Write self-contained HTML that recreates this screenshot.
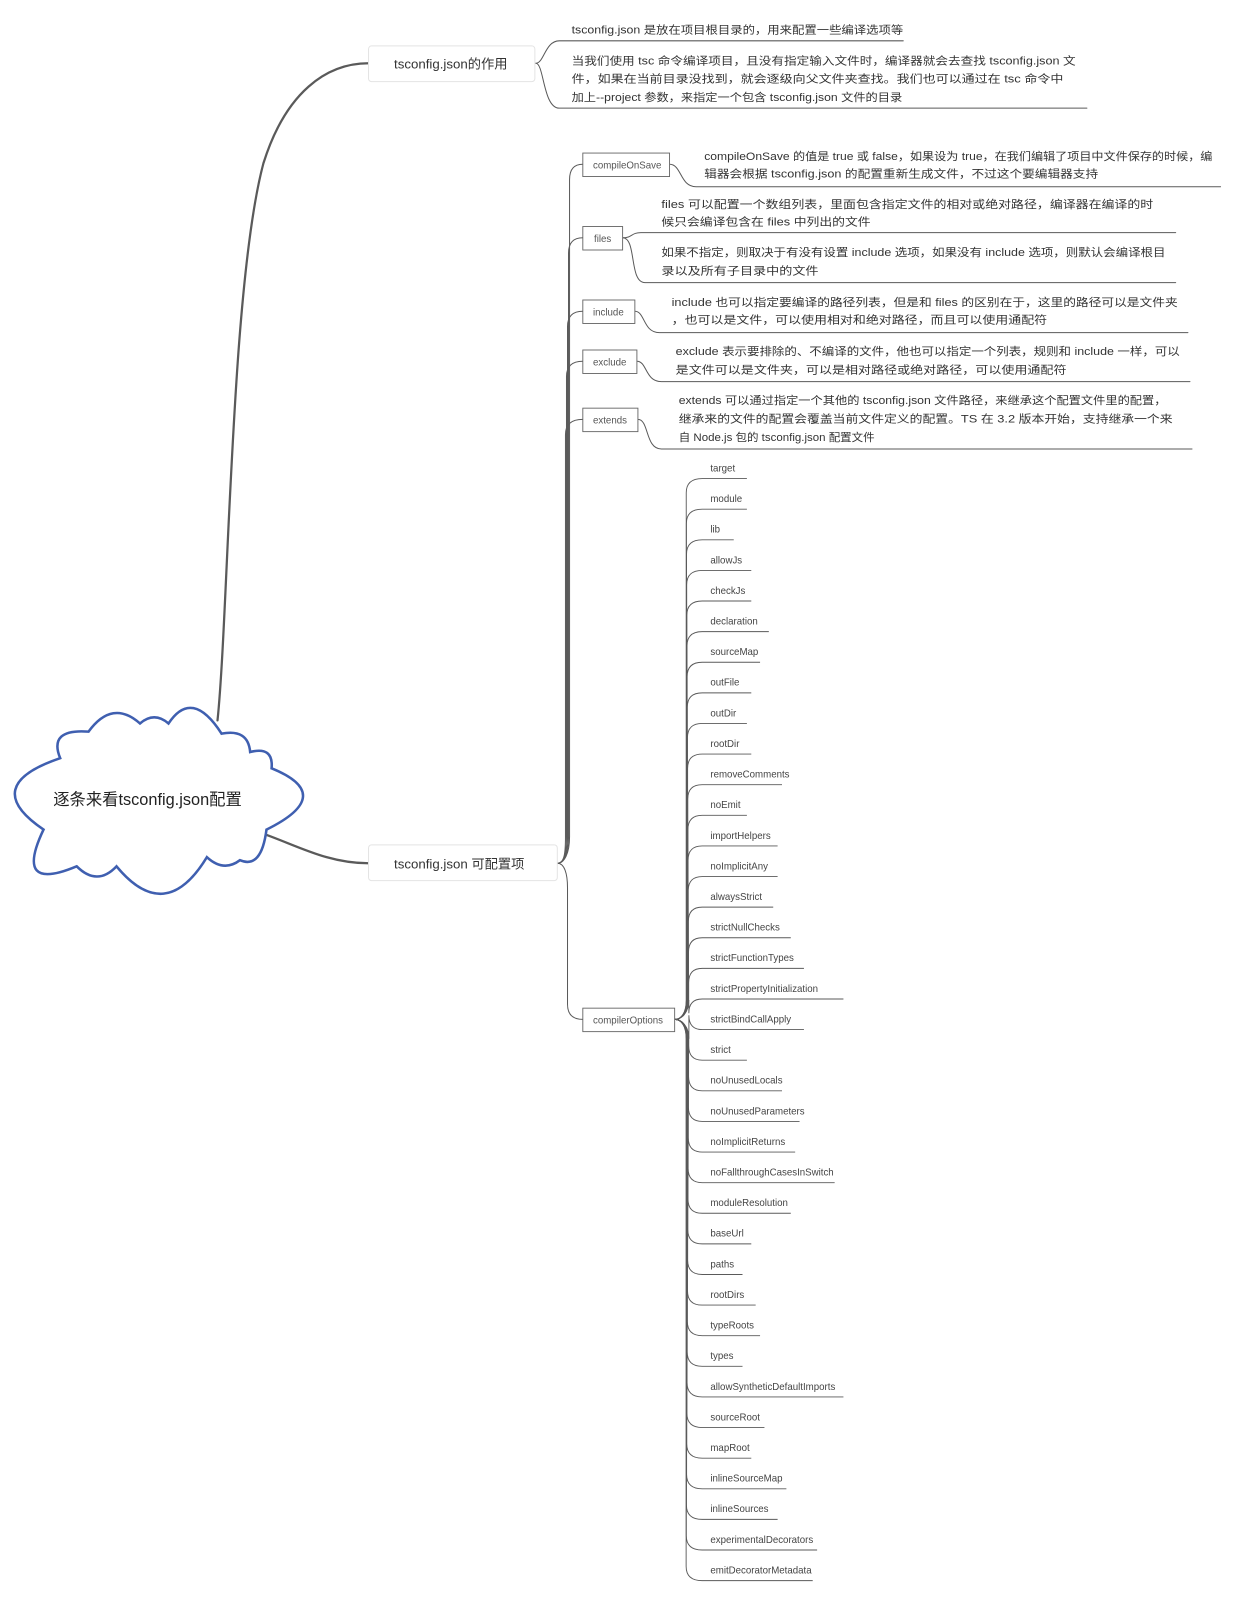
<!DOCTYPE html>
<html><head><meta charset="utf-8"><style>
html,body{margin:0;padding:0;background:#fff;}
svg{display:block}
text{font-family:"Liberation Sans","Noto Sans CJK SC",sans-serif;fill:#333;}
.d{font-size:10.5px;}
.l{font-size:9.5px;fill:#444;}
.b{font-size:9.5px;fill:#555;}
</style></head><body>
<svg width="1234" height="1600" viewBox="0 0 1209 1568" xmlns="http://www.w3.org/2000/svg">
<g fill="none" stroke="#5a5a5a" stroke-linecap="round">
<path d="M213,706 C224,600 226,280 258,160 C280,90 320,62 361,62" stroke-width="2.2"/>
<path d="M255,816 C290,828 320,846 361,846" stroke-width="2.2"/>
<path d="M525,62 C533,62 534,40 548,40 L885,40" stroke-width="1"/>
<path d="M525,62 C533,62 532,106 548,106 L1065,106" stroke-width="1"/>
<g stroke-width="1">
<path d="M546,846 C553,846 558,836 558,820 L558,176 Q558,161 571,161"/>
<path d="M546,846 C553,846 557,836 557,820 L557,248 Q557,233 571,233"/>
<path d="M546,846 C553,846 556,836 556,820 L556,320 Q556,305 571,305"/>
<path d="M546,846 C553,846 555,836 555,820 L555,369 Q555,354 571,354"/>
<path d="M546,846 C553,846 554,836 554,820 L554,426 Q554,411 571,411"/>
<path d="M546,846 C553,846 556,856 556,870 L556,984 Q556,999 571,999"/>
<path d="M656,161 C668,161 666,183 682,183 L1196,183"/>
<path d="M610,233 C620,233 618,228 628,228 L1152,228"/>
<path d="M610,233 C624,233 616,277 632,277 L1152,277"/>
<path d="M622,305 C632,305 630,326 646,326 L1164,326"/>
<path d="M624,354 C634,354 632,374 648,374 L1166,374"/>
<path d="M625,411 C636,411 632,440 648,440 L1168,440"/>
</g>
</g>
<path d="M58.8,743 Q47,714 86.6,717 Q110,685 137,709 Q151,697 165,709 Q188,674 217,719 Q243,714 245,737 Q268,731 266,753 Q330,779 261,813 Q256,852 235,843 Q219,855 202.6,840 Q162,907 114,849 Q95,869 75,849 Q13,875 42.5,813 Q-21,770 58.8,743 Z" fill="#fff" stroke="#3f5fb0" stroke-width="2.5"/>
<text x="52" y="789" style="font-size:16px;fill:#222">逐条来看tsconfig.json配置</text>
<rect x="361" y="45" width="163" height="35" rx="3" fill="#fff" stroke="#e4e4e4"/>
<text x="386" y="67" style="font-size:13px">tsconfig.json的作用</text>
<rect x="361" y="828" width="185" height="35" rx="3" fill="#fff" stroke="#e4e4e4"/>
<text x="386" y="851" style="font-size:13px">tsconfig.json 可配置项</text>
<g class="d">
<text class="d" x="560" y="33" textLength="325" lengthAdjust="spacingAndGlyphs">tsconfig.json 是放在项目根目录的，用来配置一些编译选项等</text>
<text class="d" x="560" y="63" textLength="494" lengthAdjust="spacingAndGlyphs">当我们使用 tsc 命令编译项目，且没有指定输入文件时，编译器就会去查找 tsconfig.json 文</text>
<text class="d" x="560" y="81" textLength="482" lengthAdjust="spacingAndGlyphs">件，如果在当前目录没找到，就会逐级向父文件夹查找。我们也可以通过在 tsc 命令中</text>
<text class="d" x="560" y="99" textLength="324" lengthAdjust="spacingAndGlyphs">加上--project 参数，来指定一个包含 tsconfig.json 文件的目录</text>
</g>
<g fill="#fff" stroke="#666" stroke-width="0.9">
<rect x="571" y="150" width="85" height="23"/>
<rect x="571" y="222" width="39" height="23"/>
<rect x="571" y="294" width="51" height="23"/>
<rect x="571" y="343" width="53" height="23"/>
<rect x="571" y="400" width="54" height="23"/>
<rect x="571" y="988" width="90" height="23"/>
</g>
<text class="b" x="581" y="165">compileOnSave</text>
<text class="b" x="582" y="237">files</text>
<text class="b" x="581" y="309">include</text>
<text class="b" x="581" y="358">exclude</text>
<text class="b" x="581" y="415">extends</text>
<text class="b" x="581" y="1003">compilerOptions</text>
<text class="d" x="690" y="157" textLength="498" lengthAdjust="spacingAndGlyphs">compileOnSave 的值是 true 或 false，如果设为 true，在我们编辑了项目中文件保存的时候，编</text>
<text class="d" x="690" y="174" textLength="386" lengthAdjust="spacingAndGlyphs">辑器会根据 tsconfig.json 的配置重新生成文件，不过这个要编辑器支持</text>
<text class="d" x="648" y="204" textLength="482" lengthAdjust="spacingAndGlyphs">files 可以配置一个数组列表，里面包含指定文件的相对或绝对路径，编译器在编译的时</text>
<text class="d" x="648" y="221" textLength="205" lengthAdjust="spacingAndGlyphs">候只会编译包含在 files 中列出的文件</text>
<text class="d" x="648" y="251" textLength="494" lengthAdjust="spacingAndGlyphs">如果不指定，则取决于有没有设置 include 选项，如果没有 include 选项，则默认会编译根目</text>
<text class="d" x="648" y="269" textLength="154" lengthAdjust="spacingAndGlyphs">录以及所有子目录中的文件</text>
<text class="d" x="658" y="300" textLength="496" lengthAdjust="spacingAndGlyphs">include 也可以指定要编译的路径列表，但是和 files 的区别在于，这里的路径可以是文件夹</text>
<text class="d" x="658" y="317" textLength="368" lengthAdjust="spacingAndGlyphs">，也可以是文件，可以使用相对和绝对路径，而且可以使用通配符</text>
<text class="d" x="662" y="348" textLength="494" lengthAdjust="spacingAndGlyphs">exclude 表示要排除的、不编译的文件，他也可以指定一个列表，规则和 include 一样，可以</text>
<text class="d" x="662" y="366" textLength="383" lengthAdjust="spacingAndGlyphs">是文件可以是文件夹，可以是相对路径或绝对路径，可以使用通配符</text>
<text class="d" x="665" y="396" textLength="478" lengthAdjust="spacingAndGlyphs">extends 可以通过指定一个其他的 tsconfig.json 文件路径，来继承这个配置文件里的配置，</text>
<text class="d" x="665" y="414" textLength="484" lengthAdjust="spacingAndGlyphs">继承来的文件的配置会覆盖当前文件定义的配置。TS 在 3.2 版本开始，支持继承一个来</text>
<text class="d" x="665" y="432" textLength="192" lengthAdjust="spacingAndGlyphs">自 Node.js 包的 tsconfig.json 配置文件</text>
<g id="leaves" fill="none" stroke="#5a5a5a" stroke-width="0.9"></g>
<g id="ltext"></g>
</svg>
<script>
var names=["target","module","lib","allowJs","checkJs","declaration","sourceMap","outFile","outDir","rootDir","removeComments","noEmit","importHelpers","noImplicitAny","alwaysStrict","strictNullChecks","strictFunctionTypes","strictPropertyInitialization","strictBindCallApply","strict","noUnusedLocals","noUnusedParameters","noImplicitReturns","noFallthroughCasesInSwitch","moduleResolution","baseUrl","paths","rootDirs","typeRoots","types","allowSyntheticDefaultImports","sourceRoot","mapRoot","inlineSourceMap","inlineSources","experimentalDecorators","emitDecoratorMetadata"];
var ns="http://www.w3.org/2000/svg",g=document.getElementById("leaves"),t=document.getElementById("ltext");
names.forEach(function(n,i){
 var y=459+30*i,u=y+10,end=706+n.length*4.3;
 var x0=675-Math.min(3,Math.abs(u-999)/200);
 var p=document.createElementNS(ns,"path");
 var d;
 if(u<999) d="M661,999 C668,999 "+x0+",992 "+x0+",980 L"+x0+","+(u+14)+" Q"+x0+","+u+" 688,"+u+" L"+end+","+u;
 else d="M661,999 C668,999 "+x0+",1006 "+x0+",1018 L"+x0+","+(u-14)+" Q"+x0+","+u+" 688,"+u+" L"+end+","+u;
 p.setAttribute("d",d);g.appendChild(p);
 var tx=document.createElementNS(ns,"text");
 tx.setAttribute("class","l");tx.setAttribute("x","696");tx.setAttribute("y",y+3);
 tx.textContent=n;t.appendChild(tx);
});
</script>
</body></html>
